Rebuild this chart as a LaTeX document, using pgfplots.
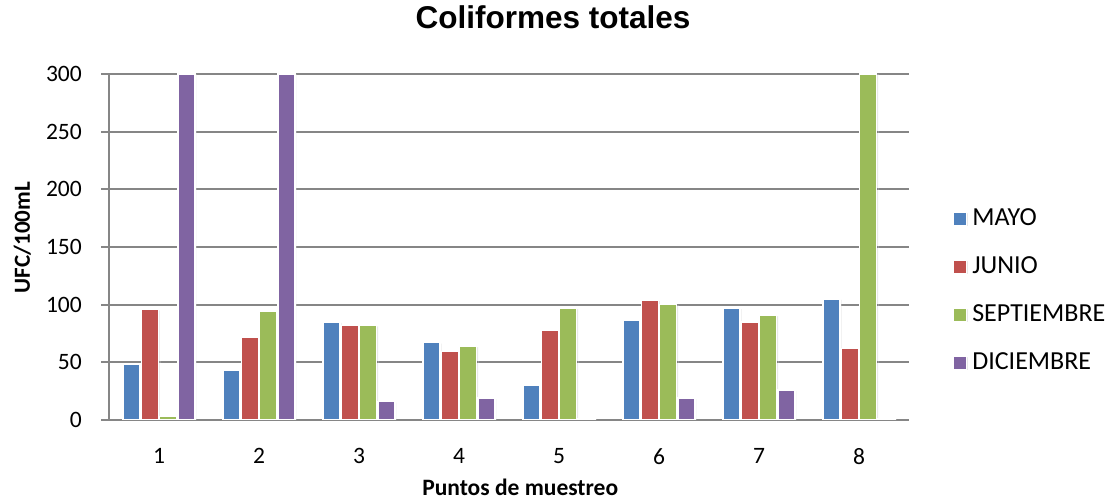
\documentclass[border=0pt]{standalone}
\usepackage{fontspec}
\setmainfont{Carlito}
\newfontfamily\titlefont{Liberation Sans}
\usepackage{pgfplots}
\pgfplotsset{compat=1.18}
\usetikzlibrary{shadows}
\definecolor{cMayo}{HTML}{4F81BD}
\definecolor{cJunio}{HTML}{C0504D}
\definecolor{cSept}{HTML}{9BBB59}
\definecolor{cDic}{HTML}{8064A2}
\definecolor{axgray}{HTML}{868686}
\begin{document}
\begin{tikzpicture}
\begin{axis}[
  at={(109pt,83pt)}, anchor=south west,
  scale only axis, width=800pt, height=346pt,
  ybar=1.3pt, bar width=17pt,
  xmin=0.5, xmax=8.5, ymin=0, ymax=300,
  xtick={1,...,8}, ytick={0,50,...,300},
  /pgf/number format/assume math mode=true,
  axis x line*=bottom, axis y line*=left,
  axis line style={draw=axgray, line width=2pt},
  ymajorgrids, grid style={draw=axgray, line width=2pt},
  tick align=outside, major tick length=8pt,
  ytick style={draw=axgray, line width=2pt},
  xtick style={draw=none},
  ticklabel style={font=\fontsize{23.5}{28}\selectfont},
  yticklabel style={anchor=east, inner sep=0pt, xshift=-19pt},
  xticklabel style={anchor=north, inner sep=0pt, yshift=-20pt},
  title={\titlefont\bfseries\fontsize{31.5}{36}\selectfont Coliformes totales},
  title style={at={(0.555,1)}, anchor=base, yshift=39pt, inner sep=0pt},
  xlabel={\bfseries\fontsize{23.5}{27}\selectfont Puntos de muestreo},
  xlabel style={at={(0.514,0)}, anchor=base, yshift=-75pt, inner sep=0pt},
  ylabel={\bfseries\fontsize{23}{27}\selectfont UFC/100mL},
  ylabel style={at={(0,0.527)}, anchor=base, yshift=79pt, inner sep=0pt},
  legend style={at={(1.055,0.373)}, anchor=west, draw=none, fill=none, inner sep=0pt, outer sep=0pt,
    font=\fontsize{26}{30}\selectfont, row sep=19pt,
    nodes={inner sep=3pt, text height=18pt, text depth=5pt}},
  legend cell align=left,
  legend image code/.code={\fill[#1] (0pt,-6.5pt) rectangle (13pt,6.5pt);},
  every axis plot/.append style={draw=white, line width=1.3pt,
    drop shadow={shadow xshift=1.5pt, shadow yshift=-1pt, opacity=0.18}},
]
\addplot[fill=cMayo] coordinates {(1,48) (2,43) (3,85) (4,67) (5,30) (6,86) (7,97) (8,105)};
\addplot[fill=cJunio] coordinates {(1,96) (2,72) (3,82) (4,59.5) (5,78) (6,104) (7,85) (8,62)};
\addplot[fill=cSept] coordinates {(1,3) (2,94) (3,82) (4,64) (5,97) (6,100) (7,91) (8,300)};
\addplot[fill=cDic] coordinates {(1,300) (2,300) (3,16) (4,19) (5,1) (6,19) (7,26) (8,1)};
\legend{\hspace{2pt}MAYO,\hspace{2pt}JUNIO,\hspace{2pt}SEPTIEMBRE,\hspace{2pt}DICIEMBRE}
\end{axis}
\pgfresetboundingbox
\path (0,0) rectangle (1113pt,503pt);
\end{tikzpicture}
\end{document}
